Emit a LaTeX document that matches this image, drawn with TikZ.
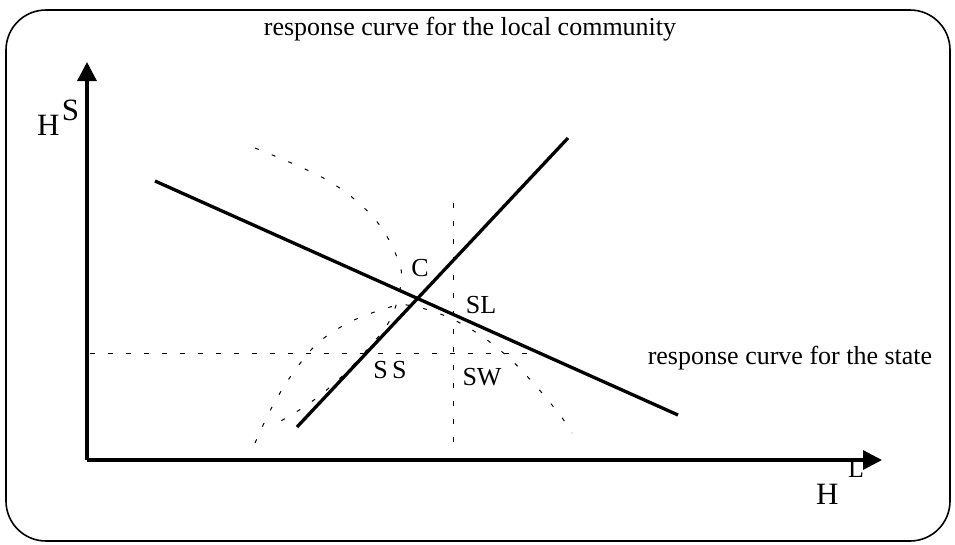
\documentclass[tikz,border=0pt]{standalone}
\usepackage{fontspec}
\setmainfont{Liberation Serif}
\usepackage{tikz}
\usetikzlibrary{positioning,arrows.meta}

\begin{document}
\begin{tikzpicture}[
  x=1pt, y=-1pt,
  lbl/.style   = {font=\fontsize{26}{30}\selectfont, inner sep=0pt},
  axlbl/.style = {font=\fontsize{31}{35}\selectfont, inner sep=0pt},
  axis/.style  = {line width=3.3pt, -{Triangle[length=19pt,width=19pt]}},
  resp/.style  = {line width=3.3pt},
  guide/.style = {line width=1pt, dash pattern=on 5pt off 13pt},
  iso/.style   = {line width=1pt, dash pattern=on 4pt off 14pt},
]
\useasboundingbox (0,0) rectangle (955,544);

% ---------- frame ----------
\draw[line width=1.6pt, rounded corners=40pt] (6,10) rectangle (950,541);

% ---------- axes ----------
\coordinate (O)  at (87,460);
\coordinate (yt) at (87,62);
\coordinate (xt) at (882,460);
\draw[axis] (O) -- (yt);
\draw[axis] (O) -- (xt);

\node[axlbl, anchor=base west] (hy) at (37,135) {H};
\node[axlbl, right=2pt of hy.base east, anchor=base west,
      yshift=15pt] (sy) {S};
\node[axlbl, anchor=base west] (hx) at (816,504) {H};
\node[lbl, anchor=base west] (lx) at (848,477) {L};

% ---------- guide lines ----------
\coordinate (vtop) at (453,203);
\coordinate (vbot) at (453,443);
\coordinate (hl)   at (90,353);
\coordinate (hr)   at (535,353);
\draw[guide] (vtop) -- (vbot);
\draw[guide] (hl) -- (hr);

% ---------- indifference curves ----------
\draw[iso] plot[smooth, tension=0.6] coordinates {
  (255,148) (327,180) (373,217) (397,257) (401,283) (390,320)
  (365,352) (338,380) (307,405) (272,426)};
\draw[iso] plot[smooth, tension=0.6] coordinates {
  (255,443) (272,407) (293,373) (318,343) (350,322) (387,308)
  (407,305) (443,315) (477,333) (508,357) (535,385) (560,415) (572,433)};

% ---------- response curves ----------
\coordinate (loc1) at (155,181);
\coordinate (loc2) at (678,415);
\coordinate (st1)  at (297,427);
\coordinate (st2)  at (568,138);
\draw[resp] (loc1) -- (loc2);
\draw[resp] (st1) -- (st2);

% ---------- labels ----------
\node[lbl] (tcom)   at (470,29)  {response curve for the local community};
\node[lbl] (tstate) at (790,358) {response curve for the state};
\node[lbl] (c)  at (420,268) {C};
\node[lbl] (sl) at (481,305) {SL};
\node[lbl] (ss) at (390,370) {S\,S};
\node[lbl] (sw) at (482,377) {SW};

\end{tikzpicture}
\end{document}
